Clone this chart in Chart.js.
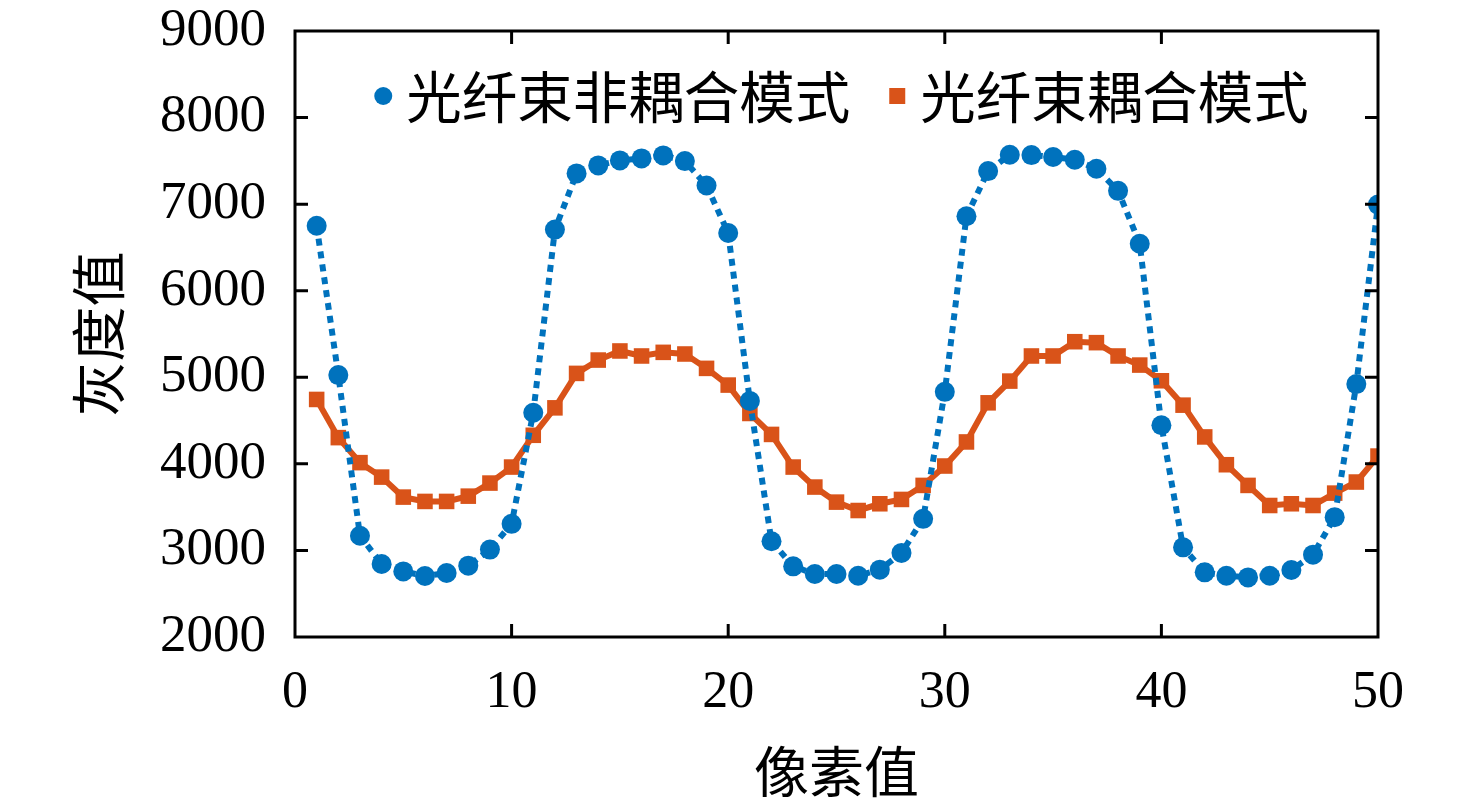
<!DOCTYPE html>
<html>
<head>
<meta charset="utf-8">
<script src="https://cdn.jsdelivr.net/npm/chart.js@4.4.1/dist/chart.umd.min.js"></script>
<style>
html,body{margin:0;padding:0;background:#fff;}
canvas{display:block;}
</style>
</head>
<body>
<canvas id="c" width="1476" height="808"></canvas>
<script>
const pixels = [];
for (let i = 1; i <= 50; i++) pixels.push(i);
const seriesNames = ['光纤束非耦合模式', '光纤束耦合模式'];
const uncoupled = [6750,5025,3170,2843,2758,2704,2739,2824,3010,3307,
                   4590,6706,7355,7447,7505,7528,7563,7497,7215,6667,
                   4727,3106,2816,2728,2728,2708,2778,2971,3365,4832,
                   6860,7382,7571,7567,7544,7513,7409,7154,6543,4446,
                   3036,2747,2708,2688,2708,2774,2951,3384,4921,6995];
const coupled = [4744,4303,4014,3847,3616,3566,3566,3627,3778,3963,
                 4330,4647,5045,5199,5304,5246,5288,5269,5103,4910,
                 4582,4340,3963,3732,3558,3461,3539,3589,3751,3975,
                 4253,4705,4956,5246,5246,5411,5400,5246,5141,4960,
                 4678,4311,3990,3751,3519,3539,3519,3662,3790,4090];
const xTitle = '像素值';
const yTitle = '灰度值';
const xRange = [0, 50, 10];
const yRange = [2000, 9000, 1000];

const BLUE = '#0072BD', ORANGE = '#D95319';
const serif = '"Liberation Serif", "Noto Sans CJK SC", serif';
const cjk = '"Noto Sans CJK SC", "Liberation Serif", sans-serif';

const toXY = arr => arr.map((v, i) => ({x: pixels[i], y: v}));

const framePlugin = {
  id: 'frame',
  afterDatasetsDraw(chart) {
    const {ctx, chartArea: a, scales: {x, y}} = chart;
    ctx.save();
    ctx.strokeStyle = '#000';
    ctx.lineWidth = 3;
    ctx.strokeRect(a.left, a.top, a.right - a.left, a.bottom - a.top);
    const tl = 13;
    ctx.beginPath();
    x.ticks.forEach(t => {
      const px = x.getPixelForValue(t.value);
      if (px <= a.left + 1 || px >= a.right - 1) return;
      ctx.moveTo(px, a.bottom); ctx.lineTo(px, a.bottom - tl);
      ctx.moveTo(px, a.top); ctx.lineTo(px, a.top + tl);
    });
    y.ticks.forEach(t => {
      const py = y.getPixelForValue(t.value);
      if (py <= a.top + 1 || py >= a.bottom - 1) return;
      ctx.moveTo(a.left, py); ctx.lineTo(a.left + tl, py);
      ctx.moveTo(a.right, py); ctx.lineTo(a.right - tl, py);
    });
    ctx.stroke();
    ctx.restore();
  }
};

// legend drawn inside the plot area, one row, centered
const legendPlugin = {
  id: 'innerLegend',
  afterDatasetsDraw(chart) {
    const {ctx, chartArea: a} = chart;
    const ds = chart.data.datasets;
    const fontSize = 55.5;
    ctx.save();
    ctx.font = fontSize + 'px ' + cjk;
    ctx.textBaseline = 'middle';
    ctx.textAlign = 'left';
    const markerToText = 23, itemGap = 38, markerHalf = 9;
    const widths = ds.map(d => markerHalf + markerToText + ctx.measureText(d.label).width);
    const total = widths.reduce((s, w) => s + w, 0) + itemGap * (ds.length - 1);
    let x = (a.left + a.right) / 2 - total / 2 + 5;
    const cy = a.top + 65;
    ds.forEach((d, i) => {
      const mx = x + markerHalf;
      ctx.fillStyle = d.pointBackgroundColor;
      if (d.pointStyle === 'rect') {
        ctx.fillRect(mx - 8, cy - 8, 16, 16);
      } else {
        ctx.beginPath();
        ctx.arc(mx, cy, 9, 0, Math.PI * 2);
        ctx.fill();
      }
      ctx.fillStyle = '#000';
      ctx.fillText(d.label, mx + markerToText, cy + 1);
      x += widths[i] + itemGap;
    });
    ctx.restore();
  }
};

const padL = 65, padB = 4, padT = 31, padR = 98;

new Chart(document.getElementById('c'), {
  type: 'line',
  data: {
    datasets: [
      {
        label: seriesNames[0],
        data: toXY(uncoupled),
        borderColor: BLUE,
        backgroundColor: BLUE,
        borderWidth: 6,
        borderDash: [7, 6],
        borderCapStyle: 'butt',
        pointStyle: 'circle',
        pointRadius: 10,
        pointBackgroundColor: BLUE,
        pointBorderWidth: 0,
        tension: 0
      },
      {
        label: seriesNames[1],
        data: toXY(coupled),
        borderColor: ORANGE,
        backgroundColor: ORANGE,
        borderWidth: 6,
        pointStyle: 'rect',
        pointRadius: 11,
        pointBackgroundColor: ORANGE,
        pointBorderWidth: 0,
        tension: 0
      }
    ]
  },
  options: {
    responsive: false,
    animation: false,
    devicePixelRatio: 1,
    layout: {padding: {left: padL, right: padR, top: padT, bottom: padB}},
    plugins: {
      tooltip: {enabled: false},
      legend: {display: false}
    },
    scales: {
      x: {
        type: 'linear',
        min: xRange[0], max: xRange[1],
        ticks: {stepSize: xRange[2], color: '#000', padding: 25, font: {family: serif, size: 52}, maxRotation: 0,
                callback: v => String(v)},
        grid: {display: false, drawTicks: false},
        border: {display: false},
        title: {display: true, text: xTitle, color: '#000', font: {family: cjk, size: 55}, padding: 0},
        afterFit(s) { s.height = 808 - 637 - padB; s.paddingTop = 0; }
      },
      y: {
        type: 'linear',
        min: yRange[0], max: yRange[1],
        ticks: {stepSize: yRange[2], color: '#000', padding: 29, font: {family: serif, size: 53},
                callback: v => String(v)},
        grid: {display: false, drawTicks: false},
        border: {display: false},
        title: {display: true, text: yTitle, color: '#000', font: {family: cjk, size: 55}, padding: 0},
        afterFit(s) { s.width = 295 - padL; s.paddingTop = 0; }
      }
    }
  },
  plugins: [framePlugin, legendPlugin]
});
</script>
</body>
</html>
